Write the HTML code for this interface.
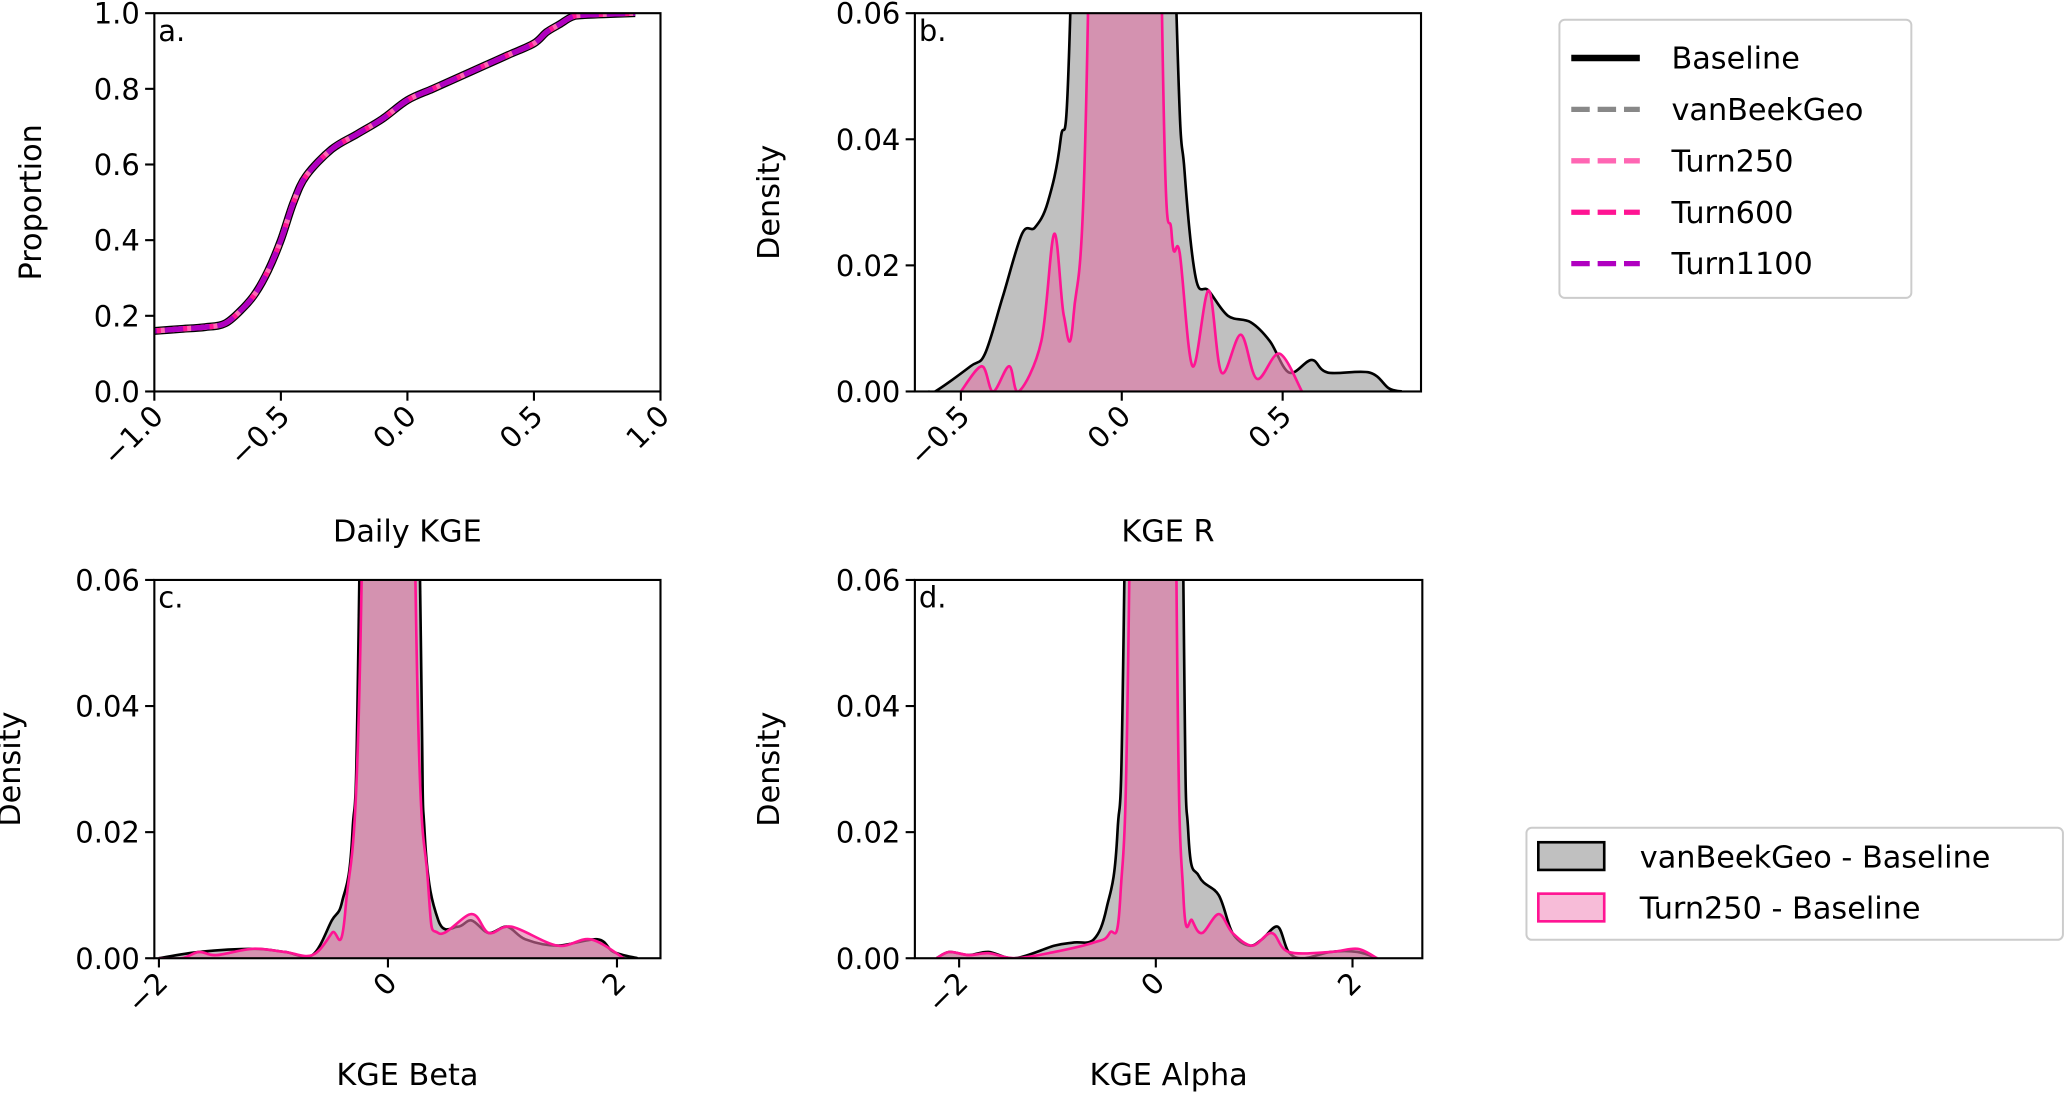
<!DOCTYPE html>
<html><head><meta charset="utf-8"><style>
html,body{margin:0;padding:0;background:#fff}
svg{display:block;font-family:"DejaVu Sans","Liberation Sans",sans-serif}
</style></head><body>
<svg id="fig" width="2067" height="1094" viewBox="0 0 1568 830" xmlns="http://www.w3.org/2000/svg">
<rect width="1568" height="830" fill="#fff"/>
<g id="layer"></g>
<g>
<rect x="1183" y="15" width="267" height="211" rx="4" fill="#fff" stroke="#ccc" stroke-width="1.5"/>
<g><line x1="1192" y1="44" x2="1244" y2="44" stroke="#000" stroke-width="5"/><text x="1268" y="52" font-size="23">Baseline</text></g>
<g><line x1="1192" y1="83" x2="1244" y2="83" stroke="#888" stroke-width="4" stroke-dasharray="14,6"/><text x="1268" y="91" font-size="23">vanBeekGeo</text></g>
<g><line x1="1192" y1="122" x2="1244" y2="122" stroke="#ff66b3" stroke-width="4" stroke-dasharray="14,6"/><text x="1268" y="130" font-size="23">Turn250</text></g>
<g><line x1="1192" y1="161" x2="1244" y2="161" stroke="#ff1493" stroke-width="4" stroke-dasharray="14,6"/><text x="1268" y="169" font-size="23">Turn600</text></g>
<g><line x1="1192" y1="200" x2="1244" y2="200" stroke="#b000c0" stroke-width="4" stroke-dasharray="14,6"/><text x="1268" y="208" font-size="23">Turn1100</text></g>
</g>
<g>
<rect x="1158" y="628" width="407" height="85" rx="4" fill="#fff" stroke="#ccc" stroke-width="1.5"/>
<g><rect x="1167" y="639" width="50" height="21" fill="#c0c0c0" stroke="#000" stroke-width="2"/><text x="1244" y="658" font-size="23">vanBeekGeo - Baseline</text></g>
<g><rect x="1167" y="678" width="50" height="21" fill="#f7bcd8" stroke="#ff1493" stroke-width="2"/><text x="1244" y="697" font-size="23">Turn250 - Baseline</text></g>
</g>
</svg>
<script>
// Panel a: CDF
const cdfX=[-1,-0.9,-0.8,-0.72,-0.65,-0.6,-0.55,-0.5,-0.45,-0.4,-0.3,-0.2,-0.1,0,0.1,0.2,0.3,0.4,0.5,0.55,0.6,0.65,0.7,0.9];
const cdfY=[0.16,0.165,0.17,0.18,0.22,0.26,0.32,0.4,0.5,0.57,0.64,0.68,0.72,0.77,0.8,0.83,0.86,0.89,0.92,0.95,0.97,0.99,0.995,1.0];
const ticksA=[-1,-0.5,0,0.5,1];const tickLabA=["−1.0","−0.5","0.0","0.5","1.0"];
const yTicksA=[0,0.2,0.4,0.6,0.8,1.0];const yLabA=["0.0","0.2","0.4","0.6","0.8","1.0"];
// Panel b: KGE R
const bBaseX=[-0.6,-0.58,-0.47,-0.425,-0.37,-0.31,-0.27,-0.23,-0.19,-0.16,-0.1,0,0.1,0.17,0.195,0.23,0.27,0.33,0.4,0.46,0.52,0.59,0.64,0.77,0.83,0.87];
const bBaseY=[0,0,0.004,0.006,0.015,0.025,0.026,0.03,0.04,0.06,0.2,0.4,0.2,0.06,0.035,0.018,0.016,0.012,0.011,0.008,0.003,0.005,0.003,0.003,0.0005,0];
const bTurnX=[-0.5,-0.435,-0.4,-0.35,-0.32,-0.25,-0.21,-0.18,-0.15,-0.105,-0.05,0,0.07,0.125,0.155,0.18,0.22,0.27,0.31,0.37,0.42,0.49,0.56];
const bTurnY=[0,0.004,0,0.004,0,0.008,0.025,0.012,0.012,0.06,0.3,0.5,0.3,0.06,0.025,0.022,0.004,0.016,0.003,0.009,0.002,0.006,0];
const ticksB=[-0.5,0,0.5];const tickLabB=["−0.5","0.0","0.5"];
const yTicksD=[0,0.02,0.04,0.06];const yLabD=["0.00","0.02","0.04","0.06"];
// Panel c: KGE Beta
const cBaseX=[-2,-1.65,-1.18,-0.9,-0.66,-0.49,-0.4,-0.31,-0.25,-0.1,0,0.1,0.28,0.32,0.44,0.61,0.73,0.88,1.04,1.2,1.48,1.83,1.97,2.18];
const cBaseY=[0,0.001,0.0015,0.001,0.0005,0.006,0.009,0.02,0.06,0.3,0.4,0.3,0.06,0.02,0.006,0.005,0.006,0.004,0.005,0.003,0.002,0.003,0.001,0];
const cTurnX=[-2,-1.8,-1.65,-1.5,-1.18,-0.9,-0.66,-0.49,-0.37,-0.23,-0.1,0,0.1,0.24,0.35,0.44,0.73,0.88,1.08,1.48,1.77,2.06];
const cTurnY=[0,0,0.001,0.0005,0.0015,0.001,0.0005,0.004,0.008,0.06,0.3,0.4,0.3,0.06,0.012,0.004,0.007,0.004,0.005,0.002,0.003,0];
const ticksC=[-2,0,2];const tickLabC=["−2","0","2"];
// Panel d: KGE Alpha
const dBaseX=[-2.23,-2.1,-1.9,-1.7,-1.43,-1.03,-0.83,-0.63,-0.5,-0.39,-0.32,-0.15,0,0.15,0.28,0.33,0.44,0.64,0.78,0.95,1.08,1.24,1.35,1.5,1.78,2.05,2.25];
const dBaseY=[0,0.001,0.0005,0.001,0,0.002,0.0025,0.003,0.008,0.02,0.06,0.3,0.4,0.3,0.06,0.02,0.013,0.01,0.004,0.002,0.003,0.005,0.001,0,0.001,0.001,0];
const dTurnX=[-2.23,-2.1,-1.9,-1.7,-1.43,-1.03,-0.63,-0.47,-0.36,-0.27,-0.12,0,0.12,0.21,0.28,0.37,0.47,0.64,0.78,0.98,1.18,1.35,1.78,2.05,2.25];
const dTurnY=[0,0.001,0.0005,0.0008,0,0.001,0.0025,0.004,0.01,0.06,0.3,0.5,0.3,0.06,0.01,0.006,0.004,0.007,0.004,0.002,0.004,0.001,0.001,0.0015,0];

const NS="http://www.w3.org/2000/svg";
const layer=document.getElementById('layer');
function el(tag,attrs,parent){const e=document.createElementNS(NS,tag);for(const k in attrs)e.setAttribute(k,attrs[k]);(parent||layer).appendChild(e);return e;}
function smooth(pts){let d="M"+pts[0][0]+","+pts[0][1];for(let i=0;i<pts.length-1;i++){const p0=pts[Math.max(0,i-1)],p1=pts[i],p2=pts[i+1],p3=pts[Math.min(pts.length-1,i+2)];const c1=[p1[0]+(p2[0]-p0[0])/6,p1[1]+(p2[1]-p0[1])/6],c2=[p2[0]-(p3[0]-p1[0])/6,p2[1]-(p3[1]-p1[1])/6];d+=" C"+c1[0]+","+c1[1]+" "+c2[0]+","+c2[1]+" "+p2[0]+","+p2[1];}return d;}
let clipN=0;
function panel(cfg){
  const g=el('g',{});
  
  
  const sx=v=>cfg.L+(v-cfg.x0)/(cfg.x1-cfg.x0)*(cfg.R-cfg.L);
  const sy=v=>cfg.B-(v-cfg.y0)/(cfg.y1-cfg.y0)*(cfg.B-cfg.T);
  const id='clip'+(clipN++);
  const cp=el('clipPath',{id:id},g);el('rect',{x:cfg.L,y:cfg.T,width:cfg.R-cfg.L,height:cfg.B-cfg.T},cp);
  const plot=el('g',{'clip-path':'url(#'+id+')'},g);
  cfg.draw(plot,sx,sy);
  const frame=el('rect',{x:cfg.L,y:cfg.T,width:cfg.R-cfg.L,height:cfg.B-cfg.T,fill:'none',stroke:'#000','stroke-width':1.6},g);
  
  
  cfg.xt.forEach((v,i)=>{const x=sx(v);el('line',{x1:x,y1:cfg.B,x2:x,y2:cfg.B+7,stroke:'#000','stroke-width':1.6},g);
    const t=el('text',{x:x+8,y:cfg.B+20,'font-size':22,'text-anchor':'end',transform:'rotate(-45 '+(x+8)+' '+(cfg.B+20)+')'},g);t.textContent=cfg.xl[i];
    
    });
  cfg.yt.forEach((v,i)=>{const y=sy(v);el('line',{x1:cfg.L-7,y1:y,x2:cfg.L,y2:y,stroke:'#000','stroke-width':1.6},g);
    const t=el('text',{x:cfg.L-11,y:y+8,'font-size':22,'text-anchor':'end'},g);t.textContent=cfg.yl[i];
    
    });
  const xt=el('text',{x:(cfg.L+cfg.R)/2,y:cfg.B+cfg.xlOff,'font-size':23,'text-anchor':'middle'},g);xt.textContent=cfg.xlabel;
  
  
  const yx=cfg.L-cfg.ylOff;const yy=(cfg.T+cfg.B)/2;
  const yt=el('text',{x:yx,y:yy,'font-size':23,'text-anchor':'middle',transform:'rotate(-90 '+yx+' '+yy+')'},g);yt.textContent=cfg.ylabel;
  
  
  const pl=el('text',{x:cfg.L+3,y:cfg.T+21,'font-size':22},g);pl.textContent=cfg.tag;
  
  
}
function kde(plot,sx,sy,X,Y,fill,stroke,name){
  const pts=X.map((v,i)=>[sx(v),sy(Y[i])]);
  const d=smooth(pts);
  const a=el('path',{d:d+" L"+pts[pts.length-1][0]+","+sy(0)+" L"+pts[0][0]+","+sy(0)+" Z",fill:fill},plot);
  
  
  const l=el('path',{d:d,fill:'none',stroke:stroke,'stroke-width':2},plot);
  
  
}
function densPanel(name,L,T,R,B,x0,x1,xt,xl,xlabel,tag,bx,by,tx,ty,xlOff,ylOff){
  panel({name:name,L:L,T:T,R:R,B:B,x0:x0,x1:x1,y0:0,y1:0.06,xt:xt,xl:xl,yt:yTicksD,yl:yLabD,xlabel:xlabel,ylabel:'Density',ylOff:ylOff,xlOff:xlOff,tag:tag,
    draw:(p,sx,sy)=>{kde(p,sx,sy,bx,by,'#c0c0c0','#000','vanbeekgeo-baseline');kde(p,sx,sy,tx,ty,'rgba(225,115,165,0.6)','#ff1493','turn250-baseline');}});
}
panel({name:'panel-a',L:117,T:10,R:501,B:297,x0:-1,x1:1,y0:0,y1:1,xt:ticksA,xl:tickLabA,yt:yTicksA,yl:yLabA,xlabel:'Daily KGE',ylabel:'Proportion',ylOff:86,xlOff:114,tag:'a.',
  draw:(p,sx,sy)=>{const pts=cdfX.map((v,i)=>[sx(v),sy(cdfY[i])]);const d=smooth(pts);
    [['#000',6,null,'baseline'],['#888',4,'14,6','vanbeekgeo'],['#ff66b3',4,'14,6','turn250'],['#ff1493',4,'14,6','turn600'],['#b000c0',4,'14,6','turn1100']].forEach((s,i)=>{
      const a={d:d,fill:'none',stroke:s[0],'stroke-width':s[1]};if(s[2]){a['stroke-dasharray']=s[2];a['stroke-dashoffset']=i*3;}
      const l=el('path',a,p);
      
      });}});
densPanel('panel-b',694,10,1078,297,-0.643,0.93,ticksB,tickLabB,'KGE R','b.',bBaseX,bBaseY,bTurnX,bTurnY,114,103);
densPanel('panel-c',117,440,501,727,-2.04,2.38,ticksC,tickLabC,'KGE Beta','c.',cBaseX,cBaseY,cTurnX,cTurnY,96,102);
densPanel('panel-d',694,440,1079,727,-2.45,2.71,ticksC,tickLabC,'KGE Alpha','d.',dBaseX,dBaseY,dTurnX,dTurnY,96,103);
</script>
</body></html>
